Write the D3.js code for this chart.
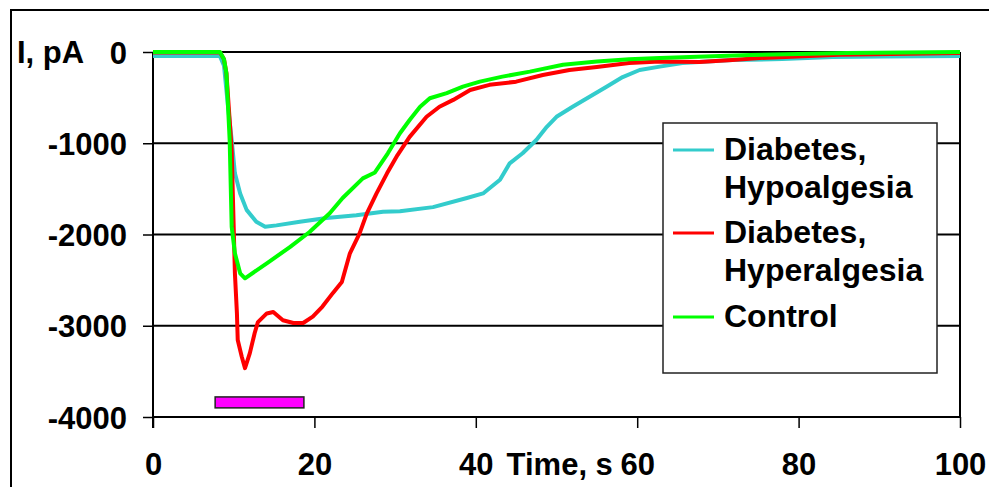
<!DOCTYPE html>
<html>
<head>
<meta charset="utf-8">
<script src="https://cdn.jsdelivr.net/npm/d3@7"></script>
<style>
  body { margin: 0; background: #fff; }
  text { font-family: "Liberation Sans", Arial, sans-serif; font-weight: bold; font-size: 31px; fill: #000; }
</style>
</head>
<body>
<div id="chart"></div>
<script>
const width = 989;
const height = 487;

// time (s) and current (pA)
const hypoTime = [0, 8.3, 8.8, 9.3, 9.75, 10.15, 10.8, 11.6, 12.8, 13.9, 15.3, 18.2, 21.5, 25.2, 28.5, 30.6, 34.7, 38.9, 40.9, 43, 44.2, 45.8, 47.5, 48.8, 50, 52, 54.1, 56.2, 58.2, 60.3, 62.8, 65.6, 71.8, 78, 84.2, 90.4, 100];
const hypoI = [-45, -45, -150, -600, -964, -1330, -1550, -1730, -1860, -1915, -1900, -1860, -1820, -1790, -1750, -1745, -1700, -1600, -1550, -1400, -1220, -1110, -964, -820, -710, -600, -490, -380, -275, -197, -160, -120, -88, -77, -55, -50, -44];

const hyperTime = [0, 8.3, 8.8, 9.1, 9.75, 9.9, 10.15, 10.4, 10.5, 11.0, 11.4, 12.0, 12.6, 13.0, 14.1, 14.9, 16.1, 17.4, 18.6, 19.8, 21.0, 22.3, 23.4, 24.4, 25.6, 26.5, 27.7, 29.0, 30.3, 31.8, 33.9, 35.5, 37.2, 39.3, 41.7, 45, 48.3, 51.6, 55, 59, 62.8, 67.7, 71.8, 75.2, 85, 100];
const hyperI = [-5, -5, -80, -233, -1074, -1590, -2425, -2865, -3157, -3340, -3465, -3300, -3080, -2960, -2865, -2850, -2940, -2970, -2970, -2900, -2790, -2640, -2520, -2206, -1987, -1768, -1550, -1330, -1130, -930, -710, -600, -525, -416, -360, -325, -252, -197, -164, -120, -105, -110, -88, -66, -30, -10];

const ctrlTime = [0, 8.3, 8.8, 9.1, 9.5, 9.75, 10.15, 10.8, 11.4, 14.1, 17.0, 19.4, 21.9, 23.5, 26, 27.5, 29.1, 30.6, 31.8, 33.1, 34.3, 36.4, 38.4, 40.5, 43.3, 46.7, 50.8, 55, 59, 62.8, 74, 86, 100];
const ctrlI = [0, 0, -80, -233, -964, -1914, -2206, -2425, -2480, -2316, -2136, -1973, -1768, -1600, -1385, -1320, -1110, -890, -745, -600, -507, -450, -380, -325, -270, -215, -140, -105, -80, -65, -33, -10, 0];

// stimulus bar: start, end (s), low, high (pA)
const stimulus = [7.7, 18.7, -3900, -3780];

const xTicks = [0, 20, 40, 60, 80, 100];
const yTicks = [0, -1000, -2000, -3000, -4000];

const seriesNames = [["Diabetes,", "Hypoalgesia"], ["Diabetes,", "Hyperalgesia"], ["Control"]];
const seriesColors = ["#33cccc", "#ff0000", "#00ff00"];

const svg = d3.select("#chart")
    .append("svg")
    .attr("width", width)
    .attr("height", height);

// outer frame (runs off the right and bottom)
svg.append("rect")
    .attr("x", 11).attr("y", 10)
    .attr("width", 1000).attr("height", 500)
    .attr("fill", "none").attr("stroke", "#000").attr("stroke-width", 2);

const x = d3.scaleLinear().domain([0, 100]).range([153, 960]);
const y = d3.scaleLinear().domain([-4000, 0]).range([417, 52]);

// gridlines
svg.append("g")
    .selectAll("line")
    .data(yTicks)
    .enter()
    .append("line")
    .attr("x1", x(0)).attr("x2", x(100))
    .attr("y1", d => y(d)).attr("y2", d => y(d))
    .attr("stroke", "#000").attr("stroke-width", 2);

// right border
svg.append("line")
    .attr("x1", x(100)).attr("x2", x(100))
    .attr("y1", y(0)).attr("y2", y(-4000))
    .attr("stroke", "#000").attr("stroke-width", 2);

// axes
const yAxis = svg.append("g")
    .attr("transform", `translate(${x(0)},0)`)
    .call(d3.axisLeft(y).tickValues(yTicks).tickSize(10).tickFormat(d3.format("d")));

const xAxis = svg.append("g")
    .attr("transform", `translate(0,${y(-4000)})`)
    .call(d3.axisBottom(x).tickValues(xTicks).tickSize(11).tickFormat(d3.format("d")));

[yAxis, xAxis].forEach(g => {
    g.attr("font-family", null).attr("font-size", null);
    g.selectAll("path.domain").attr("stroke", "#000").attr("stroke-width", 2);
    g.selectAll(".tick line").attr("stroke", "#000").attr("stroke-width", 1.5);
});
yAxis.select("path.domain").attr("d", `M0,${y(0)}V${y(-4000) + 11}`);
xAxis.select("path.domain").attr("d", `M${x(0)},0H${x(100)}`);

yAxis.selectAll(".tick text")
    .text(d => d === 0 ? "0" : d3.format("d")(d).replace("−", "-"))
    .attr("x", -26)
    .attr("dy", 11)
    .attr("text-anchor", "end");

xAxis.selectAll(".tick text")
    .attr("y", 58)
    .attr("dy", 0)
    .attr("text-anchor", "middle");

// axis titles
svg.append("text").attr("x", 17).attr("y", 63).text("I, pA");
svg.append("text").attr("x", x(50.4)).attr("y", 475).attr("text-anchor", "middle").text("Time, s");

// stimulus bar
svg.append("rect")
    .attr("x", x(stimulus[0]))
    .attr("y", y(stimulus[3]))
    .attr("width", x(stimulus[1]) - x(stimulus[0]))
    .attr("height", y(stimulus[2]) - y(stimulus[3]))
    .attr("fill", "#ff00ff").attr("stroke", "#222").attr("stroke-width", 1.5);

// traces
const line = d3.line()
    .x(d => x(d[0]))
    .y(d => y(d[1]));

const traces = [
    d3.zip(hypoTime, hypoI),
    d3.zip(hyperTime, hyperI),
    d3.zip(ctrlTime, ctrlI)
];

svg.append("g")
    .selectAll("path")
    .data(traces)
    .enter()
    .append("path")
    .attr("d", line)
    .attr("fill", "none")
    .attr("stroke", (d, i) => seriesColors[i])
    .attr("stroke-width", 4)
    .attr("stroke-linejoin", "round");

// legend
const legend = svg.append("g");
legend.append("rect")
    .attr("x", 663).attr("y", 123)
    .attr("width", 274).attr("height", 250)
    .attr("fill", "#fff").attr("stroke", "#222").attr("stroke-width", 1.5);

const legendY = [150, 233, 317];
seriesNames.forEach((lines, i) => {
    legend.append("line")
        .attr("x1", 673).attr("x2", 714)
        .attr("y1", legendY[i]).attr("y2", legendY[i])
        .attr("stroke", seriesColors[i]).attr("stroke-width", 3);
    lines.forEach((t, j) => {
        legend.append("text")
            .attr("x", 724)
            .attr("y", legendY[i] + 10 + j * 38)
            .style("font-size", "32px")
            .text(t);
    });
});
</script>
</body>
</html>
